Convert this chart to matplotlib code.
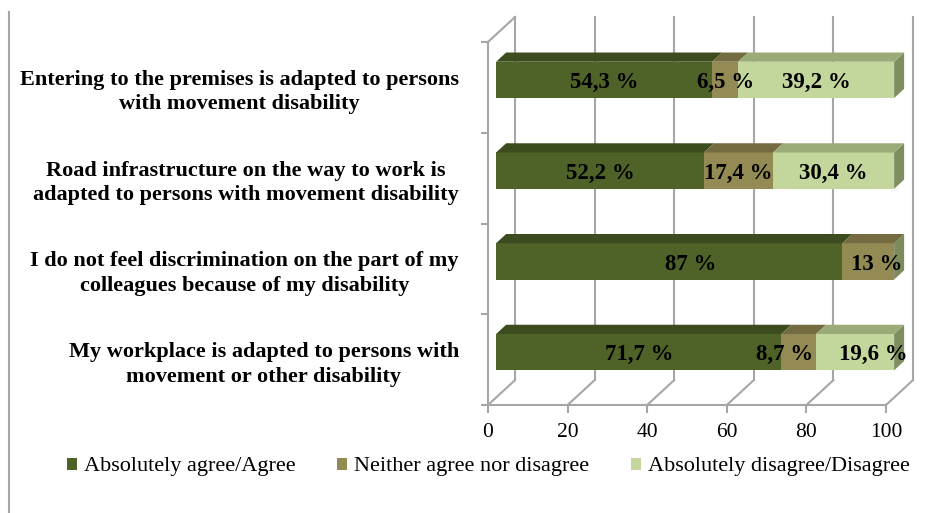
import matplotlib
matplotlib.use("Agg")
import matplotlib.pyplot as plt
from matplotlib.patches import Polygon, Patch
from matplotlib.lines import Line2D
import numpy as np

# Survey statements (bottom to top) and percentage shares
categories = [
    "My workplace is adapted to persons with\nmovement or other disability",
    "I do not feel discrimination on the part of my\ncolleagues because of my disability",
    "Road infrastructure on the way to work is\nadapted to persons with movement disability",
    "Entering to the premises is adapted to persons\nwith movement disability",
]
agree = [71.7, 87.0, 52.2, 54.3]
neutral = [8.7, 13.0, 17.4, 6.5]
disagree = [19.6, 0.0, 30.4, 39.2]
agree_labels = ["71,7 %", "87 %", "52,2 %", "54,3 %"]
neutral_labels = ["8,7 %", "13 %", "17,4 %", "6,5 %"]
disagree_labels = ["19,6 %", "", "30,4 %", "39,2 %"]
series_names = ["Absolutely agree/Agree", "Neither agree nor disagree",
                "Absolutely disagree/Disagree"]
xticks = [0, 20, 40, 60, 80, 100]

front_cols = ["#4f6228", "#948a54", "#c3d69b"]
top_cols = ["#3d4c1e", "#756b41", "#9aab78"]
side_cols = ["#34411a", "#7d8a5e", "#7e8e60"]
grid_col = "#a6a6a6"

# horizontal nudges (data units) that keep crowded value labels apart
label_shift = {(1, 0): -3.6, (2, 0): 4.6, (0, 1): 5.5, (1, 1): 2.0}

serif = "Liberation Serif"

fig = plt.figure(figsize=(9.48, 5.13), dpi=100)
ax = fig.add_axes([488 / 948, (513 - 405) / 513, 398 / 948, 363 / 513])
ax.set_xlim(0, 100)
ax.set_ylim(0, 4)

# oblique depth of the 3-D box, in data units
DX, DY = 6.8, 0.275
F0, F1 = 0.30, 0.67      # front/back depth of the bars
BAR_H = 0.40

def proj(x, y, f):
    return (x + f * DX, y + f * DY)

# back wall gridlines and floor diagonals
for t in xticks:
    ax.plot([t + DX, t + DX], [DY, 4 + DY], color=grid_col, lw=1.5,
            clip_on=False, zorder=1)
    ax.plot([t, t + DX], [0, DY], color=grid_col, lw=1.5,
            clip_on=False, zorder=1)
# top edge of the side wall
ax.plot([0, DX], [4, 4 + DY], color=grid_col, lw=1.5, clip_on=False, zorder=1)

for s in ["top", "right"]:
    ax.spines[s].set_visible(False)
for s in ["left", "bottom"]:
    ax.spines[s].set_color(grid_col)
    ax.spines[s].set_linewidth(1.5)
ax.patch.set_visible(False)

centers = np.arange(len(categories)) + 0.5
series = [agree, neutral, disagree]
texts = [agree_labels, neutral_labels, disagree_labels]
lefts = np.zeros(len(categories))
for k, vals in enumerate(series):
    vals = np.asarray(vals)
    ax.barh(centers + F0 * DY, vals, left=lefts + F0 * DX, height=BAR_H,
            color=front_cols[k], linewidth=0, zorder=3, clip_on=False)
    for i, (c, v, l) in enumerate(zip(centers, vals, lefts)):
        if v <= 0:
            continue
        ytop = c + BAR_H / 2
        top = [proj(l, ytop, F0), proj(l + v, ytop, F0),
               proj(l + v, ytop, F1), proj(l, ytop, F1)]
        ax.add_patch(Polygon(top, closed=True, facecolor=top_cols[k],
                             edgecolor="none", zorder=3, clip_on=False))
        if texts[k][i]:
            dx = label_shift.get((k, i), 0.0)
            ax.text(l + v / 2 + F0 * DX + dx, c + F0 * DY - 0.03, texts[k][i],
                    ha="center", va="center", fontsize=16.5, fontweight="bold",
                    family=serif, color="black", zorder=5)
    lefts = lefts + vals

# right-hand end faces of each bar
for i, c in enumerate(centers):
    total = lefts[i]
    last = max(k for k in range(3) if series[k][i] > 0)
    ybot, ytop = c - BAR_H / 2, c + BAR_H / 2
    side = [proj(total, ybot, F0), proj(total, ytop, F0),
            proj(total, ytop, F1), proj(total, ybot, F1)]
    ax.add_patch(Polygon(side, closed=True, facecolor=side_cols[last],
                         edgecolor="none", zorder=2.9, clip_on=False))

# axes ticks
ax.set_xticks(xticks)
ax.set_xticklabels([str(t) for t in xticks], family=serif, fontsize=15.5)
ax.tick_params(axis="x", direction="out", length=6, width=1.5, color=grid_col,
               pad=7)
ax.set_yticks(centers)
ax.set_yticklabels(categories, family=serif, fontsize=16, fontweight="bold",
                   multialignment="center", linespacing=1.3)
ax.set_yticks(np.arange(0, 5), minor=True)
ax.tick_params(axis="y", which="major", length=0, pad=21)
ax.tick_params(axis="y", which="minor", length=5, width=1.5, color=grid_col)

# legend
handles = [Patch(facecolor=c, edgecolor="none") for c in front_cols]
fig.legend(handles, series_names, ncol=3, loc="center left",
           bbox_to_anchor=(58 / 948, 1 - 467 / 513), frameon=False,
           prop={"family": serif, "size": 16}, handlelength=0.45,
           handleheight=0.45, handletextpad=0.3, columnspacing=1.9,
           borderaxespad=0)

# frame line on the left margin
fig.add_artist(Line2D([9 / 948, 9 / 948], [0, 1 - 12 / 513],
                      transform=fig.transFigure, color="#a6a6a6", lw=1.5))

fig.savefig("out.png", dpi=100)
